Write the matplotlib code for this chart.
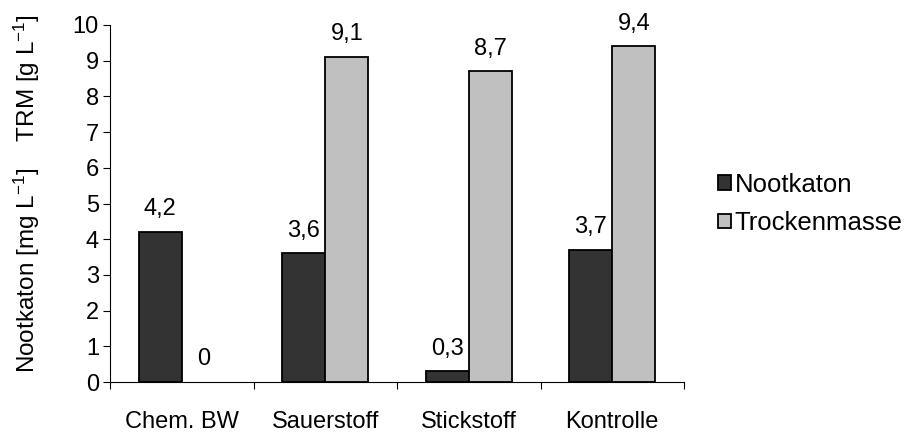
import numpy as np
import matplotlib
matplotlib.use("Agg")
from matplotlib import pyplot as plt
from matplotlib.patches import Patch

categories = ["Chem. BW", "Sauerstoff", "Stickstoff", "Kontrolle"]
nootkaton = [4.2, 3.6, 0.3, 3.7]
trockenmasse = [0, 9.1, 8.7, 9.4]
series_names = ["Nootkaton", "Trockenmasse"]
colors = ['#333333', '#c0c0c0']

plt.rcParams['font.family'] = ['Liberation Sans', 'DejaVu Sans']
plt.rcParams['mathtext.default'] = 'regular'
plt.rcParams['font.size'] = 17

fig = plt.figure(figsize=(9.1, 4.34), dpi=100)
ax = fig.add_axes([0.1209, 0.1198, 0.6308, 0.8226])

x = np.arange(len(categories))
w = 0.3
b1 = ax.bar(x - w / 2, nootkaton, w, color=colors[0], edgecolor='black', linewidth=1.3)
b2 = ax.bar(x + w / 2, trockenmasse, w, color=colors[1], edgecolor='black', linewidth=1.3)

def fmt(v):
    return ('%g' % v).replace('.', ',')

# value labels, baseline a fixed distance above the bar top
for bars, vals in [(b1, nootkaton), (b2, trockenmasse)]:
    for r, v in zip(bars, vals):
        if v == 0:
            r.set_visible(False)
        ax.annotate(fmt(v), (r.get_x() + r.get_width() / 2, v), xytext=(0, 12),
                    textcoords='offset points', ha='center', va='baseline', fontsize=17)

ax.set_xlim(-0.5, len(categories) - 0.5)
ax.set_ylim(0, 10)
ax.set_yticks(range(0, 11))
ax.set_xticks(np.arange(-0.5, len(categories), 1.0))
ax.set_xticklabels([])
ax.set_xticks(x, minor=True)
ax.set_xticklabels(categories, minor=True)
ax.tick_params(axis='x', which='minor', length=0, pad=21)
ax.tick_params(axis='x', which='major', length=5, direction='out')
ax.tick_params(axis='y', length=5, direction='out', pad=3)
ax.spines['top'].set_visible(False)
ax.spines['right'].set_visible(False)

fig.text(0.03, 0.555, "Nootkaton [mg L$^{-1}$]    TRM [g L$^{-1}$]", rotation=90,
         ha='center', va='center', fontsize=17.5)

handles = [Patch(facecolor=c, edgecolor='black', linewidth=1.3) for c in colors]
fig.legend(handles, series_names, loc='center left', bbox_to_anchor=(0.789, 0.53),
           frameon=False, handlelength=0.5, handleheight=0.5, handletextpad=0.15,
           labelspacing=0.55, fontsize=18.5, borderaxespad=0, borderpad=0)

fig.savefig("out.png", dpi=100)
